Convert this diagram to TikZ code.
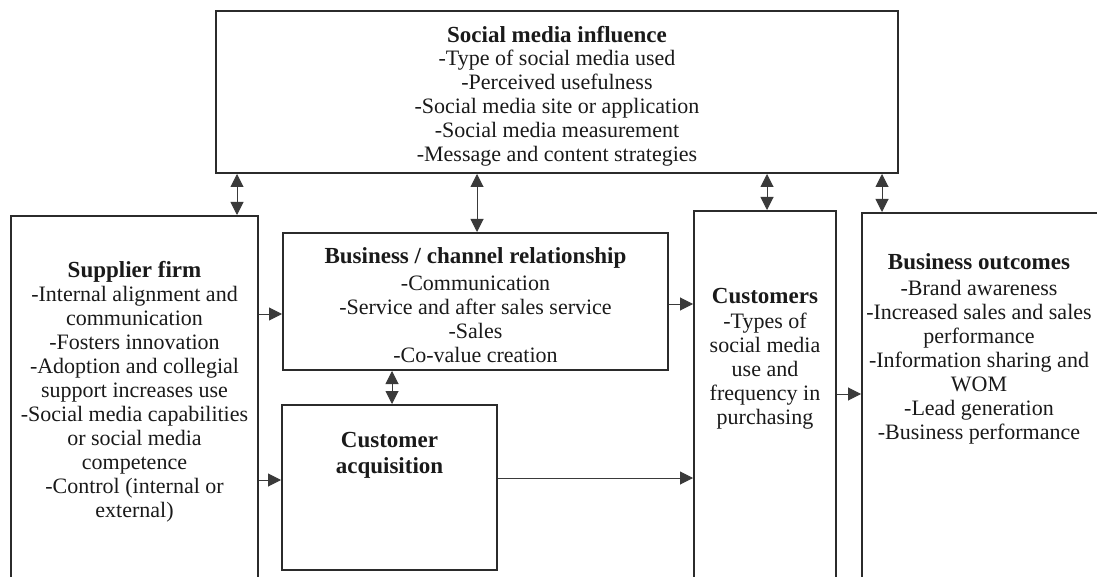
\documentclass[tikz,border=0pt]{standalone}
\usepackage{fontspec}
\setmainfont{Liberation Serif}
\usetikzlibrary{arrows.meta}
\definecolor{boxline}{HTML}{2B2B2B}
\definecolor{arrowline}{HTML}{3A3A3A}
\definecolor{ink}{HTML}{1A1A1A}
\begin{document}
\begin{tikzpicture}[x=1pt,y=-1pt,
  box/.style={draw=boxline, line width=2pt, inner sep=0pt},
  body/.style={align=center, font=\fontsize{22}{24}\selectfont, text=ink, inner sep=0pt},
  head/.style={align=center, font=\fontsize{23}{26}\selectfont\bfseries, text=ink, inner sep=0pt},
  link/.style={draw=arrowline, line width=1pt, -{Triangle[length=13pt,width=13pt]}},
  both/.style={draw=arrowline, line width=1pt, {Triangle[length=13pt,width=13pt]}-{Triangle[length=13pt,width=13pt]}},
]
\useasboundingbox (0,0) rectangle (1097,577);
\clip (0,0) rectangle (1097,577);
\fill[white] (0,0) rectangle (1097,577);

% frames
\node[box, minimum width=682pt, minimum height=162pt] (social) at (557,92) {};
\node[box, minimum width=247pt, minimum height=384pt] (supplier) at (134.5,408) {};
\node[box, minimum width=385pt, minimum height=137pt] (channel) at (475.5,301.5) {};
\node[box, minimum width=215pt, minimum height=165pt] (acq) at (389.5,487.5) {};
\node[box, minimum width=142pt, minimum height=389pt] (cust) at (765,405.5) {};
\node[box, minimum width=243pt, minimum height=387pt] (outc) at (983.5,406.5) {};

% social media influence
\node[head] (socialT) at (557,35) {Social media influence};
\node[body] (socialB) at (557,108) {-Type of social media used\\-Perceived usefulness\\-Social media site or application\\-Social media measurement\\-Message and content strategies};

% supplier firm
\node[head] (supplierT) at (134.5,272) {Supplier firm};
\node[body] (supplierB) at (134.5,404.5) {-Internal alignment and\\communication\\-Fosters innovation\\-Adoption and collegial\\support increases use\\-Social media capabilities\\or social media\\competence\\-Control (internal or\\external)};

% business / channel relationship
\node[head] (channelT) at (475.5,258) {Business / channel relationship};
\node[body] (channelB) at (475.5,319) {-Communication\\-Service and after sales service\\-Sales\\-Co-value creation};

% customer acquisition
\node[head] (acqT) at (389.5,455) {Customer\\acquisition};

% customers
\node[head] (custT) at (765,296) {Customers};
\node[body] (custB) at (765,371) {-Types of\\social media\\use and\\frequency in\\purchasing};

% business outcomes
\node[head] (outcT) at (979,262) {Business outcomes};
\node[body] (outcB) at (979,362) {-Brand awareness\\-Increased sales and sales\\performance\\-Information sharing and\\WOM\\-Lead generation\\-Business performance};

% connector positions
\coordinate (v1) at (237,0);
\coordinate (v2) at (477,0);
\coordinate (v3) at (767,0);
\coordinate (v4) at (882,0);
\coordinate (v5) at (392,0);
\coordinate (h1) at (0,314);
\coordinate (h2) at (0,480);
\coordinate (h3) at (0,304);
\coordinate (h4) at (0,478);
\coordinate (h5) at (0,394);

\draw[both] (social.south -| v1) -- (supplier.north -| v1);
\draw[both] (social.south -| v2) -- (channel.north -| v2);
\draw[both] (social.south -| v3) -- (cust.north -| v3);
\draw[both] (social.south -| v4) -- (outc.north -| v4);
\draw[both] (channel.south -| v5) -- (acq.north -| v5);

\draw[link] (supplier.east |- h1) -- (channel.west |- h1);
\draw[link] (supplier.east |- h2) -- (acq.west |- h2);
\draw[link] (channel.east |- h3) -- (cust.west |- h3);
\draw[link] (acq.east |- h4) -- (cust.west |- h4);
\draw[link] (cust.east |- h5) -- (outc.west |- h5);
\end{tikzpicture}
\end{document}
